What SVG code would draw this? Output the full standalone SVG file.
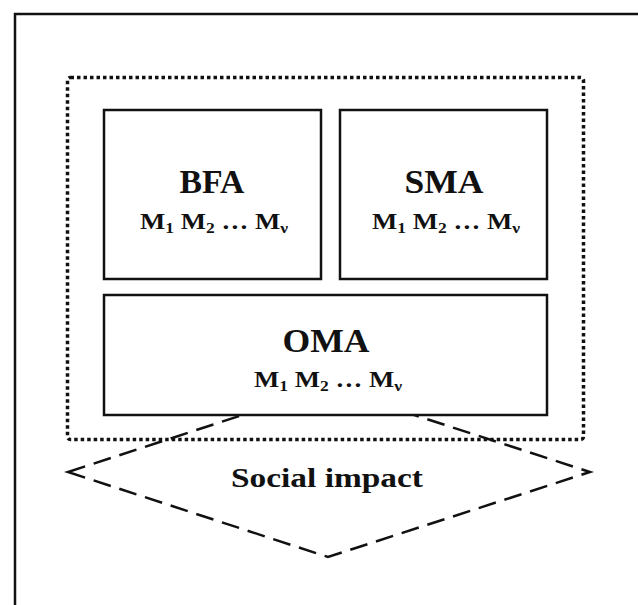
<svg xmlns="http://www.w3.org/2000/svg" width="638" height="605" viewBox="0 0 638 605">
<style>
.box{fill:#fff;stroke:#111;stroke-width:2.5}
.t{font-family:"Liberation Serif",serif;font-weight:bold;fill:#111;text-anchor:middle}
.h{font-size:33px}
.m{font-size:23px}
.s{font-size:15px}
</style>
<rect x="0" y="0" width="638" height="605" fill="#fff"/>
<path d="M15 605 V14 H640" fill="none" stroke="#111" stroke-width="2.5"/>
<g id="container">
<rect x="67.5" y="77.5" width="516" height="362" rx="3" fill="none" stroke="#111" stroke-width="3.5" stroke-dasharray="3.5 3"/>
</g>
<g id="connectors">
<polygon id="social-impact-shape" points="68,472 328,387 590,472 328,557" fill="none" stroke="#111" stroke-width="2.5" stroke-dasharray="18 9"/>
</g>
<g id="bfa">
<rect class="box" x="104" y="110" width="217" height="169"/>
<text class="t h" x="212" y="193" textLength="65" lengthAdjust="spacingAndGlyphs">BFA</text>
<text class="t m" x="214" y="229" textLength="148" lengthAdjust="spacingAndGlyphs">M<tspan class="s" dy="4">1</tspan><tspan dy="-4"> M</tspan><tspan class="s" dy="4">2</tspan><tspan dy="-4"> … M</tspan><tspan class="s" dy="4">ν</tspan></text>
</g>
<g id="sma">
<rect class="box" x="340" y="110" width="207" height="169"/>
<text class="t h" x="444" y="193" textLength="79" lengthAdjust="spacingAndGlyphs">SMA</text>
<text class="t m" x="446" y="229" textLength="148" lengthAdjust="spacingAndGlyphs">M<tspan class="s" dy="4">1</tspan><tspan dy="-4"> M</tspan><tspan class="s" dy="4">2</tspan><tspan dy="-4"> … M</tspan><tspan class="s" dy="4">ν</tspan></text>
</g>
<g id="oma">
<rect class="box" x="104" y="295" width="443" height="120"/>
<text class="t h" x="326" y="352" textLength="87" lengthAdjust="spacingAndGlyphs">OMA</text>
<text class="t m" x="328" y="387" textLength="148" lengthAdjust="spacingAndGlyphs">M<tspan class="s" dy="4">1</tspan><tspan dy="-4"> M</tspan><tspan class="s" dy="4">2</tspan><tspan dy="-4"> … M</tspan><tspan class="s" dy="4">ν</tspan></text>
</g>
<g id="social-impact">
<text class="t" x="327" y="487" font-size="28" textLength="192" lengthAdjust="spacingAndGlyphs">Social impact</text>
</g>
</svg>
